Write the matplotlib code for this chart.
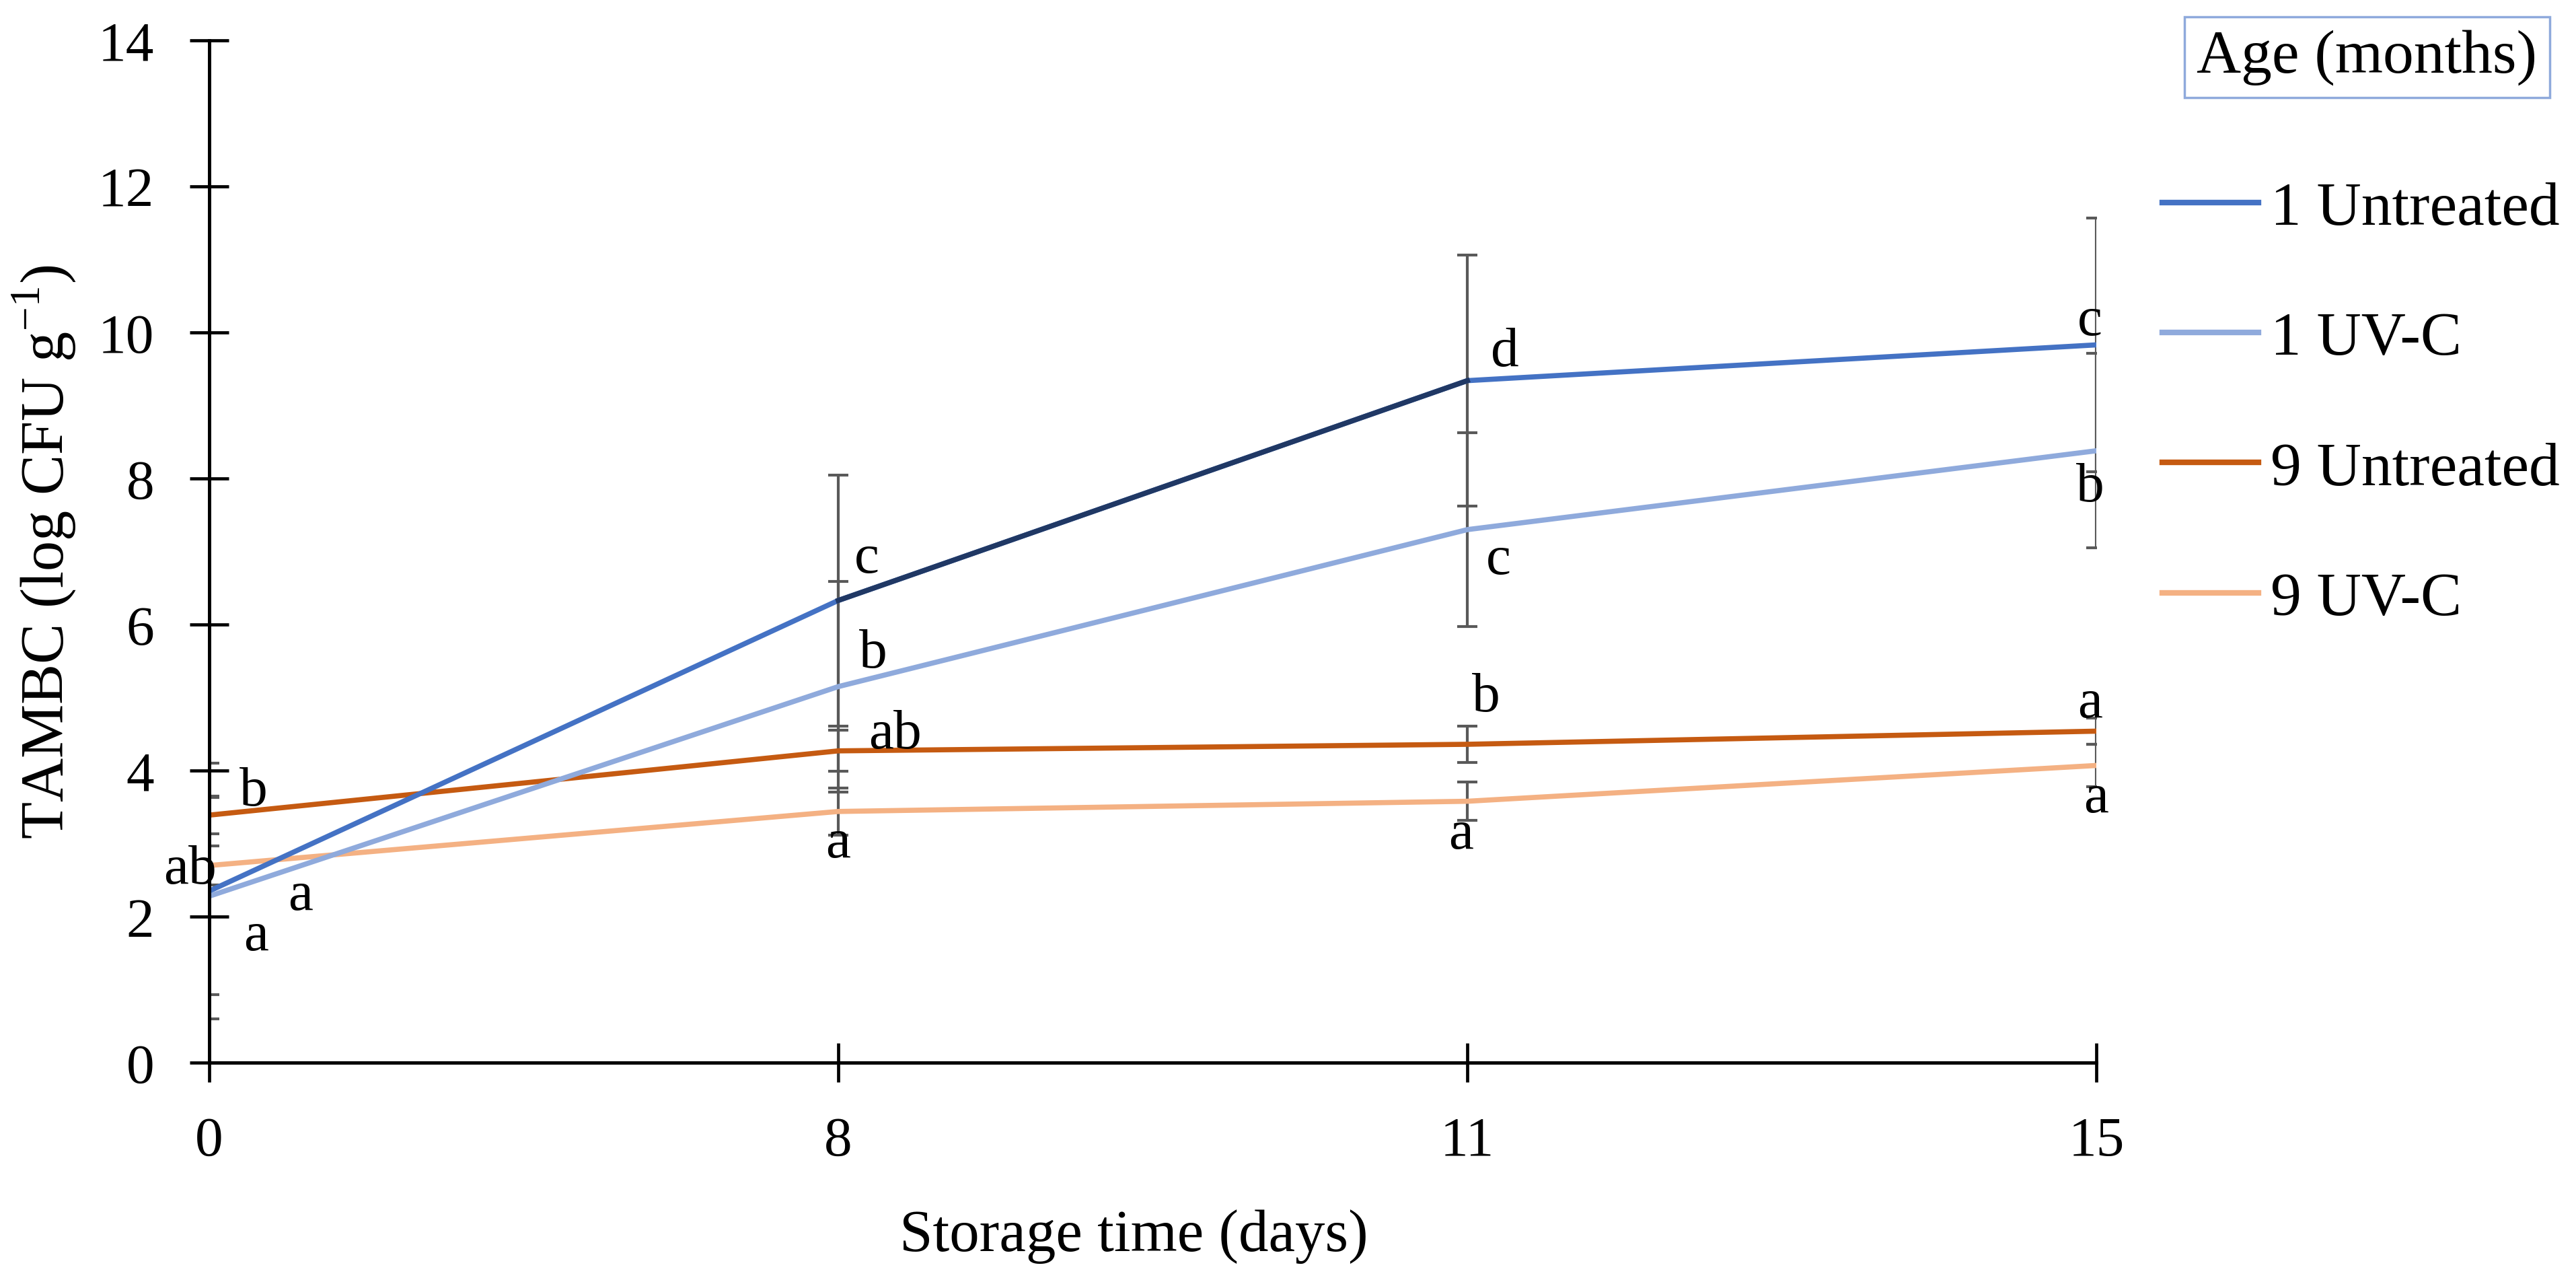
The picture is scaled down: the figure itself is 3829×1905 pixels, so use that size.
import numpy as np
import matplotlib
matplotlib.use('Agg')
import matplotlib.pyplot as plt
from matplotlib.lines import Line2D

# storage days (categorical axis, equal spacing)
days = ['0', '8', '11', '15']

series_names = ['1 Untreated', '1 UV-C', '9 Untreated', '9 UV-C']
untreated_1 = [2.35, 6.33, 9.34, 9.83]
uvc_1 = [2.28, 5.15, 7.30, 8.38]
untreated_9 = [3.39, 4.27, 4.36, 4.54]
uvc_9 = [2.70, 3.44, 3.58, 4.07]

err_untreated_1 = [1.75, 1.72, 1.72, 1.74]
err_uvc_1 = [1.35, 1.44, 1.33, 1.33]
err_untreated_9 = [0.26, 0.28, 0.25, 0.18]
err_uvc_9 = [0.27, 0.32, 0.26, 0.29]

# significance letters: (day index, y, text)
letters = [
    (0, 3.71, 'b'), (0, 2.64, 'ab'), (0, 2.28, 'a'), (0, 1.73, 'a'),
    (1, 6.90, 'c'), (1, 5.60, 'b'), (1, 4.50, 'ab'), (1, 3.00, 'a'),
    (2, 9.73, 'd'), (2, 6.88, 'c'), (2, 5.00, 'b'), (2, 3.12, 'a'),
    (3, 10.15, 'c'), (3, 7.88, 'b'), (3, 4.92, 'a'), (3, 3.62, 'a'),
]
letter_dx = [0.07, -0.03, 0.145, 0.075,
             0.045, 0.055, 0.09, 0.0,
             0.06, 0.05, 0.03, -0.01,
             -0.01, -0.01, -0.01, 0.0]

colors = ['#4472C4', '#8FAADC', '#C55A11', '#F4B183']
seg_color = '#203864'
err_color = '#595959'

plt.rcParams['font.family'] = ['Liberation Serif', 'DejaVu Serif']
plt.rcParams['mathtext.fontset'] = 'custom'
plt.rcParams['mathtext.rm'] = 'Liberation Serif'

fig = plt.figure(figsize=(38.3, 19.06), dpi=100)
ax = fig.add_axes([0.0812, 0.171, 0.7324, 0.797])

x = np.arange(len(days))
all_vals = [untreated_1, uvc_1, untreated_9, uvc_9]
all_errs = [err_untreated_1, err_uvc_1, err_untreated_9, err_uvc_9]

for vals, errs in zip(all_vals, all_errs):
    ax.errorbar(x, vals, yerr=errs, fmt='none', ecolor=err_color,
                elinewidth=3, capsize=10.5, capthick=3, zorder=2)

for vals, col in zip(all_vals[::-1], colors[::-1]):
    ax.plot(x, vals, color=col, lw=5.5, zorder=3)

# segment between day 8 and 11 of 1 Untreated is darker
ax.plot(x[1:3], untreated_1[1:3], color=seg_color, lw=5.5, zorder=4)

for (i, yv, t), dx in zip(letters, letter_dx):
    ax.text(x[i] + dx, yv, t, fontsize=60, ha='center', va='center', zorder=5)

ax.set_xlim(0, len(days) - 1)
ax.set_ylim(0, 14)
ax.set_xticks(x)
ax.set_xticklabels(days)
ax.set_yticks(np.arange(0, 15, 2))

for s in ['top', 'right']:
    ax.spines[s].set_visible(False)
for s in ['left', 'bottom']:
    ax.spines[s].set_linewidth(3.6)
    ax.spines[s].set_zorder(6)

ax.tick_params(axis='y', direction='inout', length=42, width=3.4, labelsize=60, pad=38)
ax.tick_params(axis='x', direction='inout', length=42, width=3.4, labelsize=60, pad=36)

ax.set_xlabel('Storage time (days)', fontsize=64)
ax.xaxis.set_label_coords(0.49, -0.143)
ax.set_ylabel('TAMBC (log CFU g$^{\\mathregular{-1}}$)', fontsize=65)
ax.yaxis.set_label_coords(-0.070, 0.5)

handles = [Line2D([0], [0], color=c, lw=6) for c in colors]
fig.legend(handles, series_names, loc='upper left', bbox_to_anchor=(0.8392, 0.8583),
           frameon=False, fontsize=66, handlelength=1.56, handletextpad=0.19,
           labelspacing=1.2, borderaxespad=0, borderpad=0)

fig.text(0.9186, 0.9549, 'Age (months)', fontsize=66, ha='center', va='center',
         bbox=dict(boxstyle='square,pad=0.2', fc='white', ec='#8FAADC', lw=2.5))

fig.savefig('out.png', dpi=100)
